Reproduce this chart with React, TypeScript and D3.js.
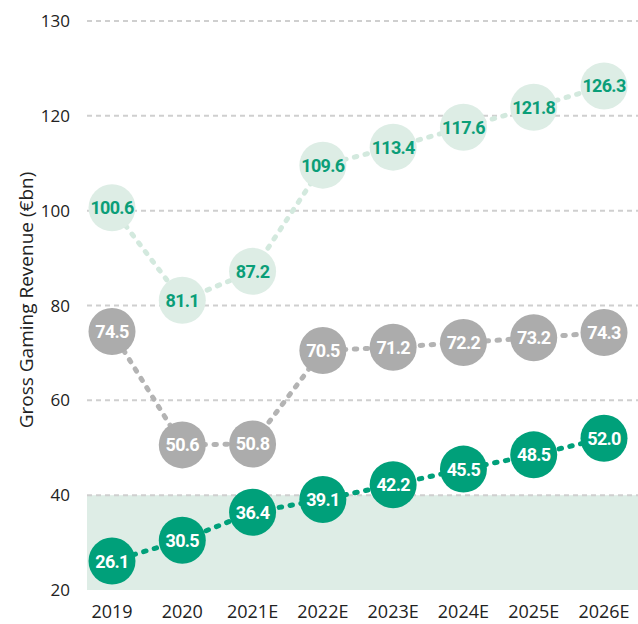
import React, { useEffect, useRef } from "react";
import { select, scaleLinear, scalePoint, line } from "d3";

const years = ["2019", "2020", "2021E", "2022E", "2023E", "2024E", "2025E", "2026E"];
const topSeries = [100.6, 81.1, 87.2, 109.6, 113.4, 117.6, 121.8, 126.3];
const greySeries = [74.5, 50.6, 50.8, 70.5, 71.2, 72.2, 73.2, 74.3];
const greenSeries = [26.1, 30.5, 36.4, 39.1, 42.2, 45.5, 48.5, 52.0];
const tickValues = [20, 40, 60, 80, 100, 120, 140];
const tickLabels = ["20", "40", "60", "80", "100", "120", "130"];
const bandTop = 40;

const W = 638;
const H = 624;
const axisFont = "'Open Sans', sans-serif";

const App = () => {
  const svgRef = useRef(null);

  useEffect(() => {
    const svg = select(svgRef.current);
    svg.selectAll("*").remove();

    const x = scalePoint().domain(years).range([112, 604]);
    const y = scaleLinear().domain([20, 140]).range([590, 21]);
    const left = 87;

    // shaded band under 40
    svg
      .append("rect")
      .attr("x", left)
      .attr("y", y(bandTop))
      .attr("width", W - left)
      .attr("height", y(20) - y(bandTop))
      .attr("fill", "#deede6");

    // grid
    svg
      .append("g")
      .selectAll("line")
      .data(tickValues.filter((t) => t > 20))
      .join("line")
      .attr("x1", left)
      .attr("x2", W)
      .attr("y1", (d) => y(d))
      .attr("y2", (d) => y(d))
      .attr("stroke", "#cfcfcf")
      .attr("stroke-width", 2)
      .attr("stroke-dasharray", "5 4");

    // y tick labels
    svg
      .append("g")
      .selectAll("text")
      .data(tickValues)
      .join("text")
      .attr("x", 70)
      .attr("y", (d) => y(d))
      .attr("dy", "0.36em")
      .attr("text-anchor", "end")
      .attr("font-family", axisFont)
      .attr("font-size", 17)
      .attr("fill", "#222")
      .text((d, i) => tickLabels[i]);

    // x labels
    svg
      .append("g")
      .selectAll("text")
      .data(years)
      .join("text")
      .attr("x", (d) => x(d))
      .attr("y", 618)
      .attr("text-anchor", "middle")
      .attr("font-family", axisFont)
      .attr("font-size", 18)
      .attr("fill", "#222")
      .text((d) => d);

    svg
      .append("text")
      .attr("transform", `translate(33,${300}) rotate(-90)`)
      .attr("text-anchor", "middle")
      .attr("font-family", axisFont)
      .attr("font-size", 19)
      .attr("fill", "#222")
      .text("Gross Gaming Revenue (€bn)");

    const series = [
      { values: topSeries, line: "#d3e9de", fill: "#ddede5", text: "#0a9e78" },
      { values: greySeries, line: "#b3b3b3", fill: "#acacac", text: "#ffffff" },
      { values: greenSeries, line: "#00a07a", fill: "#00a07a", text: "#ffffff" },
    ];

    const path = line()
      .x((d, i) => x(years[i]))
      .y((d) => y(d));

    series.forEach((s) => {
      svg
        .append("path")
        .attr("d", path(s.values))
        .attr("fill", "none")
        .attr("stroke", s.line)
        .attr("stroke-width", 5)
        .attr("stroke-linecap", "round")
        .attr("stroke-dasharray", "2.5 8.5");
    });

    series.forEach((s) => {
      const g = svg.append("g");
      g.selectAll("circle")
        .data(s.values)
        .join("circle")
        .attr("cx", (d, i) => x(years[i]))
        .attr("cy", (d) => y(d))
        .attr("r", 23.5)
        .attr("fill", s.fill);
      g.selectAll("text")
        .data(s.values)
        .join("text")
        .attr("x", (d, i) => x(years[i]))
        .attr("y", (d) => y(d))
        .attr("dy", "0.36em")
        .attr("text-anchor", "middle")
        .attr("font-size", 18)
        .attr("font-weight", "bold")
        .attr("letter-spacing", "-0.7")
        .attr("fill", s.text)
        .text((d) => d.toFixed(1));
    });
  }, []);

  return (
    <svg
      ref={svgRef}
      width={W}
      height={H}
      style={{ position: "absolute", left: 0, top: 0, fontFamily: "Roboto, sans-serif", background: "#fff" }}
    />
  );
};

export default App;
